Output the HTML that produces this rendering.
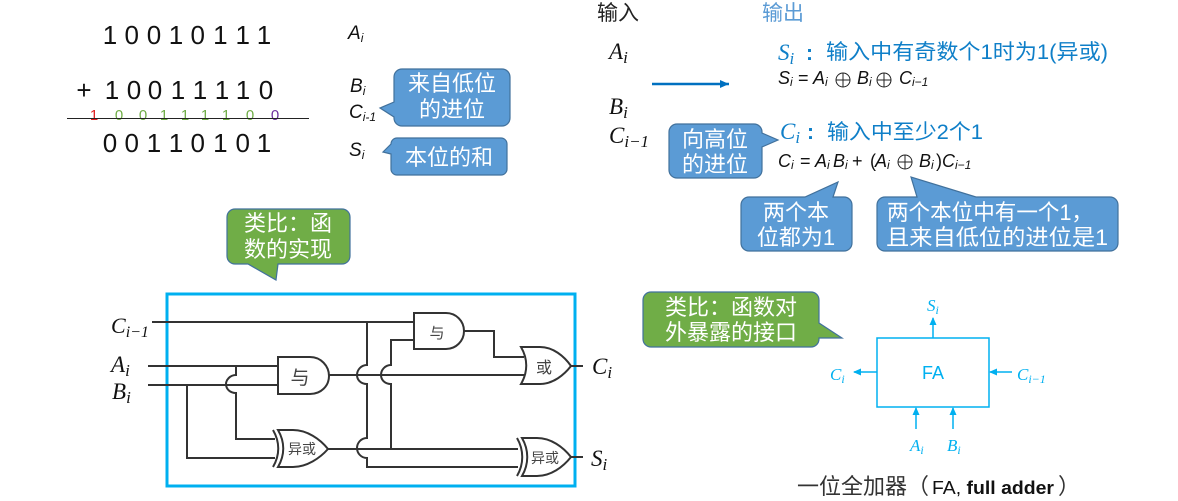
<!DOCTYPE html>
<html><head><meta charset="utf-8">
<style>
html,body{margin:0;padding:0;background:#fff;width:1178px;height:501px;overflow:hidden}
svg{display:block}
text{font-family:"Liberation Sans","Noto Sans CJK SC",sans-serif}
text.m{font-family:"Liberation Serif","Noto Sans CJK SC",serif;font-style:italic}
.i{font-style:italic}
.d{font-size:26px;text-anchor:middle;fill:#111}
.c{font-size:15px;text-anchor:middle}
.w{font-size:22px;fill:#fff;text-anchor:middle}
.b{fill:#5B9BD5;stroke:#41719C;stroke-width:1.2}
.g{fill:#70AD47;stroke:#41719C;stroke-width:1.2}
.wire{fill:none;stroke:#333;stroke-width:2}
.gate{fill:#fff;stroke:#333;stroke-width:2}
.cy{fill:#00B0F0}
.cl{stroke:#00B0F0;stroke-width:1.5;fill:none}
.e{font-size:18px;fill:#111;font-style:italic}
.bl{fill:#0F7FC8;font-size:21px}
</style></head><body>
<svg width="1178" height="501" viewBox="0 0 1178 501" xmlns="http://www.w3.org/2000/svg">
<defs>
<marker id="ac" markerWidth="8" markerHeight="8" refX="7" refY="3.5" orient="auto" markerUnits="userSpaceOnUse"><path d="M0,0L8,3.5L0,7z" fill="#00B0F0"/></marker>
<marker id="ab" markerWidth="10" markerHeight="9" refX="9" refY="4" orient="auto" markerUnits="userSpaceOnUse"><path d="M0,0L9,4L0,8z" fill="#0070C0"/></marker>
</defs>

<!-- binary addition -->
<text class="d" y="44" x="110 131.7 154 176 197.7 220.3 242.7 264">10010111</text>
<text class="d" y="99" x="84">+</text>
<text class="d" y="99" x="112 134 155 178 200 222 243 266">10011110</text>
<text class="c" y="120" x="94" fill="#E02020">1</text>
<text class="c" y="120" x="119 143 164 185 205 226 250" fill="#70AD47">0011110</text>
<text class="c" y="120" x="275" fill="#7030A0">0</text>
<line x1="67" y1="118.5" x2="309" y2="118.5" stroke="#222" stroke-width="1"/>
<text class="d" y="152" x="110 131.7 154 176 197.7 220.3 242.7 264">00110101</text>

<text class="i" x="348" y="39" font-size="19" fill="#111">A<tspan font-size="12" dy="3">i</tspan></text>
<text class="i" x="350" y="92" font-size="19" fill="#111">B<tspan font-size="12" dy="3">i</tspan></text>
<text class="i" x="349" y="118" font-size="19" fill="#111">C<tspan font-size="12" dy="3">i-1</tspan></text>
<text class="i" x="349" y="156" font-size="19" fill="#111">S<tspan font-size="12" dy="3">i</tspan></text>

<path class="b" d="M402,69H502a8,8 0 0 1 8,8V118a8,8 0 0 1 -8,8H402a8,8 0 0 1 -8,-8V117L380,108L394,102V77a8,8 0 0 1 8,-8z"/>
<text class="w" x="452" y="91">来自低位</text>
<text class="w" x="452" y="117">的进位</text>
<path class="b" d="M397,138H501a6,6 0 0 1 6,6V169a6,6 0 0 1 -6,6H397a6,6 0 0 1 -6,-6V154L383,152L391,144a6,6 0 0 1 6,-6z"/>
<text class="w" x="449" y="165">本位的和</text>

<!-- truth -->
<text x="597" y="20" font-size="21" fill="#222">输入</text>
<text x="762" y="20" font-size="21" fill="#5B9BD5">输出</text>
<text class="m" x="609" y="59" font-size="23" fill="#111">A<tspan font-size="17" dy="4">i</tspan></text>
<text class="m" x="609" y="114" font-size="23" fill="#111">B<tspan font-size="17" dy="4">i</tspan></text>
<text class="m" x="609" y="143" font-size="23" fill="#111">C<tspan font-size="17" dy="4">i−1</tspan></text>
<line x1="652" y1="84" x2="729" y2="84" stroke="#0070C0" stroke-width="2.5" marker-end="url(#ab)"/>

<text class="m" x="778" y="60" font-size="23" fill="#0F7FC8">S<tspan font-size="17" dy="4">i</tspan></text>
<text x="806" y="60" font-size="21" font-weight="bold" fill="#0F7FC8">:</text>
<text class="bl" x="826" y="59" textLength="282" lengthAdjust="spacingAndGlyphs">输入中有奇数个1时为1(异或)</text>

<text class="e" x="778" y="84">S<tspan font-size="12" dy="2">i</tspan></text>
<text x="798" y="84" font-size="18" fill="#111">=</text>
<text class="e" x="813" y="84">A<tspan font-size="12" dy="2">i</tspan></text>
<g fill="none" stroke="#222" stroke-width="1"><circle cx="843" cy="80" r="7"/><path d="M836,80H850M843,73V87"/><circle cx="884" cy="80" r="7"/><path d="M877,80H891M884,73V87"/></g>
<text class="e" x="857" y="84">B<tspan font-size="12" dy="2">i</tspan></text>
<text class="e" x="899" y="84">C<tspan font-size="12" dy="2">i−1</tspan></text>

<text class="m" x="780" y="139" font-size="23" fill="#0F7FC8">C<tspan font-size="17" dy="4">i</tspan></text>
<text x="807" y="139" font-size="21" font-weight="bold" fill="#0F7FC8">:</text>
<text class="bl" x="827" y="139" textLength="156" lengthAdjust="spacingAndGlyphs">输入中至少2个1</text>

<text class="e" x="778" y="167">C<tspan font-size="12" dy="2">i</tspan></text>
<text x="800" y="167" font-size="18" fill="#111">=</text>
<text class="e" x="815" y="167">A<tspan font-size="12" dy="2">i</tspan></text>
<text class="e" x="833" y="167">B<tspan font-size="12" dy="2">i</tspan></text>
<text x="852" y="167" font-size="18" fill="#111">+</text>
<text x="870" y="167" font-size="18" fill="#111">(</text>
<text class="e" x="875" y="167">A<tspan font-size="12" dy="2">i</tspan></text>
<g fill="none" stroke="#222" stroke-width="1"><circle cx="905" cy="162" r="7"/><path d="M898,162H912M905,155V169"/></g>
<text class="e" x="919" y="167">B<tspan font-size="12" dy="2">i</tspan></text>
<text x="936" y="167" font-size="18" fill="#111">)</text>
<text class="e" x="942" y="167">C<tspan font-size="12" dy="2">i−1</tspan></text>

<path class="b" d="M677,124H754a8,8 0 0 1 8,8V133L778,140L762,147V170a8,8 0 0 1 -8,8H677a8,8 0 0 1 -8,-8V132a8,8 0 0 1 8,-8z"/>
<text class="w" x="715" y="147">向高位</text>
<text class="w" x="715" y="172">的进位</text>

<path class="b" d="M749,197H805L838,182L833,197H844a8,8 0 0 1 8,8V243a8,8 0 0 1 -8,8H749a8,8 0 0 1 -8,-8V205a8,8 0 0 1 8,-8z"/>
<text class="w" x="796" y="220">两个本</text>
<text class="w" x="796" y="245">位都为1</text>

<path class="b" d="M885,197H917L911,177L976,197H1110a8,8 0 0 1 8,8V243a8,8 0 0 1 -8,8H885a8,8 0 0 1 -8,-8V205a8,8 0 0 1 8,-8z"/>
<text class="w" x="990" y="220" textLength="206" lengthAdjust="spacingAndGlyphs">两个本位中有一个1，</text>
<text class="w" x="997" y="245" textLength="222" lengthAdjust="spacingAndGlyphs">且来自低位的进位是1</text>

<!-- top green callout -->
<path class="g" d="M235,209H342a8,8 0 0 1 8,8V256a8,8 0 0 1 -8,8H278L276,280L248,264H235a8,8 0 0 1 -8,-8V217a8,8 0 0 1 8,-8z"/>
<text class="w" x="288" y="231">类比：函</text>
<text class="w" x="288" y="257">数的实现</text>

<!-- circuit -->
<rect x="167" y="294" width="408" height="192" fill="none" stroke="#00B0F0" stroke-width="3"/>
<text class="m" x="111" y="333" font-size="22" fill="#111">C<tspan font-size="16" dy="4">i−1</tspan></text>
<text class="m" x="111" y="372" font-size="23" fill="#111">A<tspan font-size="17" dy="4">i</tspan></text>
<text class="m" x="112" y="399" font-size="23" fill="#111">B<tspan font-size="17" dy="4">i</tspan></text>

<g class="wire">
<path d="M152,322H414"/>
<path d="M148,366H278"/>
<path d="M148,385H278"/>
<path d="M236,366V375C230,375 226,380 226,384C226,389 230,393 236,393V439H275"/>
<path d="M187,385V458H275"/>
<path d="M329,375H526"/>
<path d="M328,449H518"/>
<path d="M367,322V365C361,365 357,370 357,375C357,380 361,384 367,384V438C361,438 357,443 357,448C357,453 361,458 367,458V467H518"/>
<path d="M414,340H391V365C385,365 381,370 381,375C381,380 385,384 391,384V449"/>
<path d="M464,331H494V357H524"/>
<path d="M571,366H583"/>
<path d="M571,457H583"/>
</g>
<!-- AND 1 -->
<path class="gate" d="M278,357H310C321,357 329,366 329,376C329,386 321,394 310,394H278z"/>
<text x="300" y="384" font-size="19" text-anchor="middle" fill="#444">与</text>
<!-- AND 2 -->
<path class="gate" d="M414,313H446C456,313 464,321 464,331C464,341 456,349 446,349H414z"/>
<text x="437" y="338" font-size="15" text-anchor="middle" fill="#444">与</text>
<!-- OR -->
<path class="gate" d="M521,347H540C553,347 564,356 571,366C564,375 553,384 540,384H521C528,372 528,359 521,347z"/>
<text x="544" y="373" font-size="16" text-anchor="middle" fill="#444">或</text>
<!-- XOR 1 -->
<path class="gate" d="M278,430H293C307,430 320,439 328,449C320,458 307,467 293,467H278C285,455 285,442 278,430z"/>
<path class="wire" d="M273,430C280,442 280,455 273,467"/>
<text x="302" y="454" font-size="14" text-anchor="middle" fill="#444">异或</text>
<!-- XOR 2 -->
<path class="gate" d="M522,438H537C551,438 563,447 571,457C563,467 551,476 537,476H522C529,464 529,450 522,438z"/>
<path class="wire" d="M517,438C524,450 524,464 517,476"/>
<text x="545" y="463" font-size="14" text-anchor="middle" fill="#444">异或</text>

<text class="m" x="592" y="374" font-size="23" fill="#111">C<tspan font-size="17" dy="4">i</tspan></text>
<text class="m" x="591" y="466" font-size="23" fill="#111">S<tspan font-size="17" dy="4">i</tspan></text>

<!-- green right -->
<path class="g" d="M651,292H811a8,8 0 0 1 8,8V323L842,338H819V339a8,8 0 0 1 -8,8H651a8,8 0 0 1 -8,-8V300a8,8 0 0 1 8,-8z"/>
<text class="w" x="731" y="315">类比：函数对</text>
<text class="w" x="731" y="340">外暴露的接口</text>

<!-- FA -->
<rect class="cl" x="877" y="338" width="112" height="69"/>
<text class="cy" x="933" y="379" font-size="18" text-anchor="middle">FA</text>
<g class="cl">
<line x1="933" y1="338" x2="933" y2="318" marker-end="url(#ac)"/>
<line x1="877" y1="372" x2="854" y2="372" marker-end="url(#ac)"/>
<line x1="1012" y1="372" x2="990" y2="372" marker-end="url(#ac)"/>
<line x1="916" y1="429" x2="916" y2="408" marker-end="url(#ac)"/>
<line x1="953" y1="429" x2="953" y2="408" marker-end="url(#ac)"/>
</g>
<g class="cy">
<text class="m" font-size="17" x="927" y="311">S<tspan font-size="12" dy="3">i</tspan></text>
<text class="m" font-size="17" x="830" y="380">C<tspan font-size="12" dy="3">i</tspan></text>
<text class="m" font-size="17" x="1017" y="380">C<tspan font-size="12" dy="3">i−1</tspan></text>
<text class="m" font-size="17" x="910" y="451">A<tspan font-size="12" dy="3">i</tspan></text>
<text class="m" font-size="17" x="947" y="451">B<tspan font-size="12" dy="3">i</tspan></text>
</g>
<text x="797" y="494" font-size="22" fill="#333">一位全加器</text>
<text x="907" y="494" font-size="22" fill="#333">（</text>
<text x="932" y="494" font-size="18" fill="#111" textLength="122" lengthAdjust="spacingAndGlyphs">FA, <tspan font-weight="bold">full adder</tspan></text>
<text x="1058" y="494" font-size="22" fill="#333">）</text>
</svg>
</body></html>
